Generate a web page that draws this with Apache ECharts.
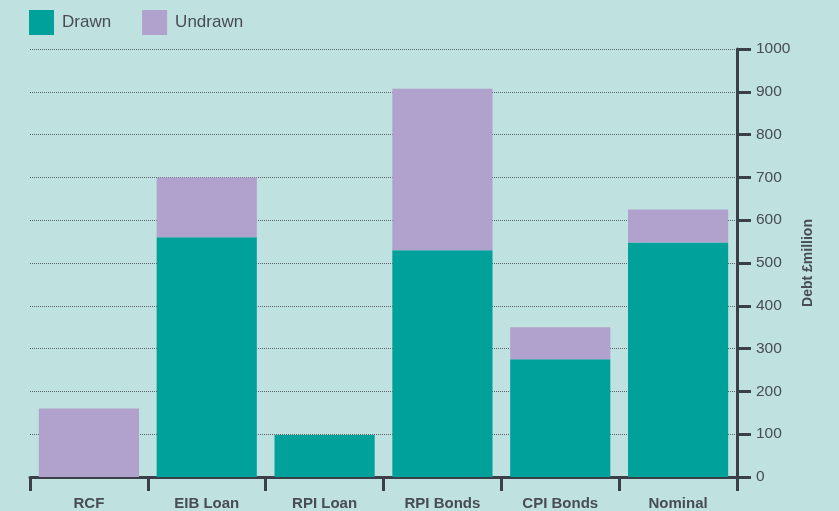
<!DOCTYPE html>
<html>
<head>
<meta charset="utf-8">
<script src="https://cdn.jsdelivr.net/npm/echarts@6/dist/echarts.min.js"></script>
<style>
    html, body { margin: 0; padding: 0; background: #bfe1df; }
    #debtchart { width: 839px; height: 511px; }
</style>
</head>
<body>
<div id="debtchart"></div>
<script>
var categories = ['RCF', 'EIB Loan', 'RPI Loan', 'RPI Bonds', 'CPI Bonds', 'Nominal'];
var drawn = [0, 560, 98, 530, 275, 548];
var undrawn = [160, 140, 0, 377, 75, 77];
var yTicks = [0, 100, 200, 300, 400, 500, 600, 700, 800, 900, 1000];

var axisColor = '#3b3f48';
var textColor = '#474c55';

var myChart = echarts.init(document.getElementById('debtchart'));
var option = {
    backgroundColor: '#bfe1df',
    textStyle: { fontFamily: 'Liberation Sans' },
    legend: {
        left: 29,
        top: 10,
        padding: 0,
        itemWidth: 25,
        itemHeight: 25,
        itemGap: 31,
        icon: 'rect',
        textStyle: {
            color: textColor,
            fontSize: 17,
            padding: [0, 0, 0, 3]
        },
        data: ['Drawn', 'Undrawn']
    },
    grid: {
        left: 30,
        right: 102,
        top: 49,
        bottom: 34,
        containLabel: false
    },
    xAxis: {
        type: 'category',
        data: categories,
        boundaryGap: true,
        axisLine: { lineStyle: { color: axisColor, width: 3 } },
        axisTick: { show: true, length: 14, lineStyle: { color: axisColor, width: 3 } },
        axisLabel: {
            color: textColor,
            fontSize: 15,
            fontWeight: 'bold',
            margin: 19
        }
    },
    yAxis: {
        type: 'value',
        position: 'right',
        min: yTicks[0],
        max: yTicks[yTicks.length - 1],
        interval: 100,
        name: 'Debt £million',
        nameLocation: 'middle',
        nameRotate: 90,
        nameGap: 58,
        nameTextStyle: {
            color: textColor,
            fontSize: 14,
            fontWeight: 'bold'
        },
        axisLine: { show: true, lineStyle: { color: axisColor, width: 3 } },
        axisTick: { show: true, length: 14, lineStyle: { color: axisColor, width: 3 } },
        axisLabel: {
            color: textColor,
            fontSize: 15.5,
            margin: 19,
            formatter: function (value) {
                return String(value);
            }
        },
        splitLine: {
            show: true,
            lineStyle: { color: '#5a6066', width: 1, type: [1, 1] }
        }
    },
    series: [{
        name: 'Drawn',
        type: 'bar',
        stack: 'debt',
        barCategoryGap: '15%',
        itemStyle: { color: '#00a19a' },
        data: drawn
    }, {
        name: 'Undrawn',
        type: 'bar',
        stack: 'debt',
        barCategoryGap: '15%',
        itemStyle: { color: '#b1a1cd' },
        data: undrawn
    }]
};
myChart.setOption(option);
</script>
</body>
</html>
